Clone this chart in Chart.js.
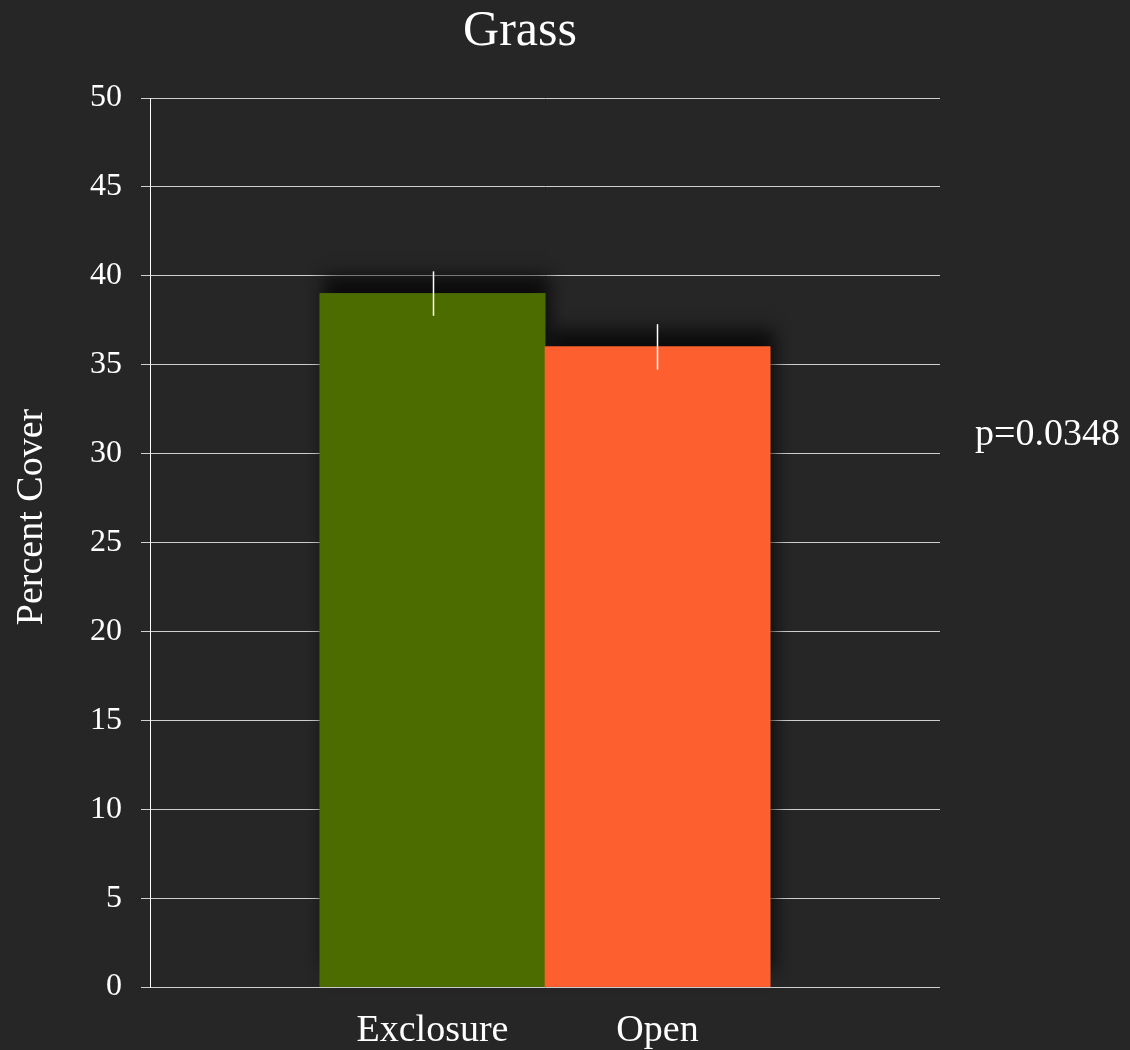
<!DOCTYPE html>
<html>
<head>
<meta charset="utf-8">
<script src="https://cdn.jsdelivr.net/npm/chart.js@4"></script>
<style>
  html, body { margin: 0; padding: 0; background: #262626; }
  canvas { display: block; }
</style>
</head>
<body>
<canvas id="chart" width="1130" height="1050"></canvas>
<script>
// Mean percent grass cover per treatment, with standard error
const categories = ['Exclosure', 'Open'];
const coverMeans = [39.0, 36.0];
const coverErrors = [1.25, 1.28];
const barColors = ['#4d6c00', '#fe5f2f'];
const yTicks = [0, 5, 10, 15, 20, 25, 30, 35, 40, 45, 50];
const pValueText = 'p=0.0348';
const yAxisTitle = 'Percent Cover';

const FONT = "'Liberation Serif', 'Times New Roman', serif";

// Soft dark shadows: every bar is first painted with a shadow,
// then the regular pass paints the bars cleanly on top.
const barShadow = {
  id: 'barShadow',
  beforeDatasetsDraw(chart) {
    const ctx = chart.ctx;
    const meta = chart.getDatasetMeta(0);
    ctx.save();
    ctx.shadowColor = 'rgba(10, 10, 10, 0.92)';
    ctx.shadowBlur = 16;
    ctx.shadowOffsetX = 4;
    ctx.shadowOffsetY = -17;
    meta.data.forEach(bar => bar.draw(ctx, chart.chartArea));
    ctx.restore();
  }
};

// Vertical error bars (mean ± SE) placed with the chart's scales
const errorBars = {
  id: 'errorBars',
  afterDatasetsDraw(chart) {
    const ctx = chart.ctx;
    const meta = chart.getDatasetMeta(0);
    const yScale = chart.scales.y;
    ctx.save();
    ctx.strokeStyle = '#ffffff';
    ctx.lineWidth = 1.5;
    meta.data.forEach((bar, i) => {
      const top = yScale.getPixelForValue(coverMeans[i] + coverErrors[i]);
      const bottom = yScale.getPixelForValue(coverMeans[i] - coverErrors[i]);
      ctx.beginPath();
      ctx.moveTo(Math.round(bar.x) + 0.5, top);
      ctx.lineTo(Math.round(bar.x) + 0.5, bottom);
      ctx.stroke();
    });
    ctx.restore();
  }
};

// Rotated y-axis caption and the significance note beside the plot
const sideTexts = {
  id: 'sideTexts',
  afterDraw(chart) {
    const ctx = chart.ctx;
    const area = chart.chartArea;
    ctx.save();
    ctx.fillStyle = '#ffffff';
    ctx.font = '38px ' + FONT;

    ctx.textAlign = 'left';
    ctx.textBaseline = 'alphabetic';
    ctx.fillText(pValueText, area.right + 35, area.top + 347);

    ctx.translate(42, 517);
    ctx.rotate(-Math.PI / 2);
    ctx.textAlign = 'center';
    ctx.fillText(yAxisTitle, 0, 0);
    ctx.restore();
  }
};

new Chart(document.getElementById('chart'), {
  type: 'bar',
  data: {
    datasets: [{
      data: coverMeans.map((v, i) => ({ x: i + 1, y: v })),
      backgroundColor: barColors,
      borderWidth: 0,
      barPercentage: 1,
      categoryPercentage: 1
    }]
  },
  options: {
    responsive: false,
    animation: false,
    layout: { padding: { left: 0, right: 90, top: 0, bottom: 0 } },
    plugins: {
      legend: { display: false },
      tooltip: { enabled: false },
      title: {
        display: true,
        text: 'Grass',
        color: '#ffffff',
        font: { family: FONT, size: 50, weight: 'normal' },
        padding: { top: 2, bottom: 36 }
      }
    },
    scales: {
      x: {
        type: 'linear',
        min: -0.2556,
        max: 3.2556,
        offset: false,
        grid: { display: false, drawTicks: false },
        border: { display: false },
        afterBuildTicks(scale) {
          scale.ticks = categories.map((_, i) => ({ value: i + 1 }));
        },
        afterFit(scale) { scale.height = 63; },
        ticks: {
          autoSkip: false,
          maxRotation: 0,
          padding: 21,
          color: '#ffffff',
          font: { family: FONT, size: 38 },
          callback: (v) => categories[v - 1] || ''
        }
      },
      y: {
        position: 'left',
        min: 0,
        max: 50,
        afterBuildTicks(scale) {
          scale.ticks = yTicks.map(v => ({ value: v }));
        },
        afterFit(scale) { scale.width = 150; },
        grid: { color: '#cfcfcf', lineWidth: 1, tickLength: 9, drawTicks: true },
        border: { display: true, color: '#ffffff', width: 1 },
        ticks: {
          padding: 19,
          color: '#ffffff',
          font: { family: FONT, size: 32 }
        }
      },
      spacer: {
        type: 'linear',
        position: 'right',
        display: true,
        grid: { display: false, drawTicks: false },
        border: { display: false },
        ticks: { display: false },
        afterFit(scale) { scale.width = 100; }
      }
    }
  },
  plugins: [barShadow, errorBars, sideTexts]
});
</script>
</body>
</html>
